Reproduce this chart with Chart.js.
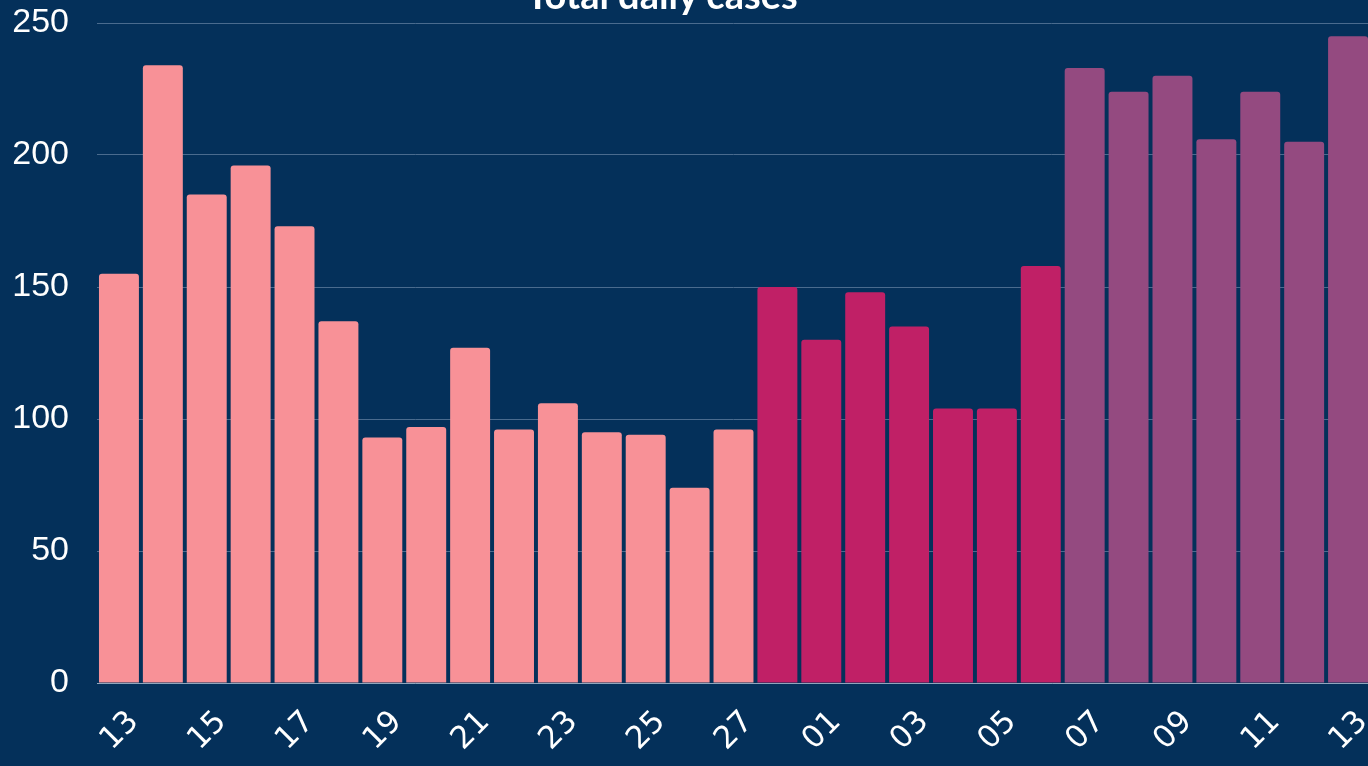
<!DOCTYPE html>
<html>
<head>
<meta charset="utf-8">
<script src="https://cdn.jsdelivr.net/npm/chart.js@4/dist/chart.umd.min.js"></script>
<style>
  html, body { margin: 0; padding: 0; background: #04305a; overflow: hidden; }
  #wrap { position: absolute; left: 0; top: 0; width: 1370px; height: 766px; }
  #title { position: absolute; top: -25px; left: 0; width: 1324px; text-align: center;
           font: bold 38px "Lato", sans-serif; line-height: 1; color: #fff; white-space: nowrap; }
</style>
</head>
<body>
<div id="wrap"><canvas id="myChart"></canvas></div>
<div id="title">Total daily cases</div>
<script>
var days = ['13','14','15','16','17','18','19','20','21','22','23','24','25','26','27','28',
            '01','02','03','04','05','06','07','08','09','10','11','12','13'];
var cases = [155, 234, 185, 196, 173, 137, 93, 97, 127, 96, 106, 95, 94, 74, 96, 150,
             130, 148, 135, 104, 104, 158, 233, 224, 230, 206, 224, 205, 245];
// period of each day: 0 = before, 1 = first week, 2 = second week
var period = [0,0,0,0,0,0,0,0,0,0,0,0,0,0,0,1,
              1,1,1,1,1,1,2,2,2,2,2,2,2];
var periodColors = ['#f89197', '#c02066', '#944a80'];
var yTicks = [0, 50, 100, 150, 200, 250];

var ctx = document.getElementById("myChart").getContext('2d');
var myChart = new Chart(ctx, {
    type: 'bar',
    data: {
        labels: days,
        datasets: [{
            label: 'Total daily cases',
            data: cases,
            backgroundColor: period.map(function(p) { return periodColors[p]; }),
            borderRadius: 3,
            categoryPercentage: 1,
            barPercentage: 0.91
        }]
    },
    options: {
        responsive: true,
        maintainAspectRatio: false,
        animation: false,
        layout: { padding: { left: 0, top: 23, right: 0, bottom: 0 } },
        plugins: {
            legend: { display: false },
            title: { display: false },
            tooltip: { enabled: false }
        },
        scales: {
            x: {
                grid: { display: false, drawTicks: false },
                border: { display: true, color: '#8fa6bd', width: 1 },
                afterFit: function(axis) {
                    axis.height = 83;
                    axis.paddingLeft = 0;
                    axis.paddingRight = 0;
                },
                ticks: {
                    color: '#ffffff',
                    font: { family: 'DejaVu Sans', size: 31 },
                    autoSkip: false,
                    minRotation: 45,
                    maxRotation: 45,
                    padding: 21,
                    labelOffset: 15,
                    callback: function(v, i) { return i % 2 === 0 ? days[i] : ''; }
                }
            },
            y: {
                min: 0,
                max: 250,
                afterBuildTicks: function(axis) {
                    axis.ticks = yTicks.map(function(v) { return { value: v }; });
                },
                afterFit: function(axis) {
                    axis.width = 97;
                    axis.paddingTop = 0;
                    axis.paddingBottom = 0;
                },
                grid: { color: '#4a6b8e', lineWidth: 1, drawTicks: false },
                border: { display: false },
                ticks: {
                    color: '#ffffff',
                    font: { family: 'Liberation Sans', size: 34 },
                    padding: 28
                }
            }
        }
    }
});
</script>
</body>
</html>
